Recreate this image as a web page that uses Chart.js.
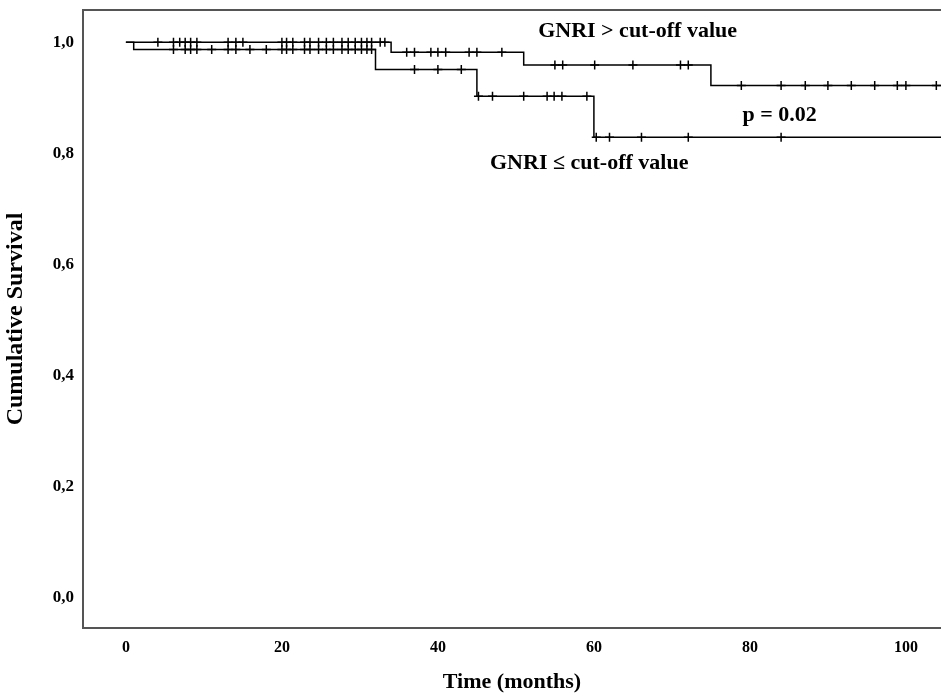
<!DOCTYPE html>
<html lang="en">
<head>
  <meta charset="UTF-8">
  <title>Cumulative Survival by GNRI</title>
  <script src="https://cdn.jsdelivr.net/npm/chart.js"></script>
  <style>
    body {
      margin: 0;
      padding: 0;
      background: #fff;
      overflow: hidden;
    }
    #km {
      display: block;
    }
  </style>
</head>
<body>

<canvas id="km" width="941" height="698"></canvas>

<script>
  // step points of the two Kaplan-Meier curves (months, survival)
  const highTimes = [0, 34, 51, 75, 105];
  const highSurv = [1.0, 0.982, 0.959, 0.922, 0.922];
  const lowTimes = [0, 1, 32, 45, 60, 105];
  const lowSurv = [1.0, 0.987, 0.951, 0.903, 0.829, 0.829];

  // censored cases (months)
  const highCensored = [4.1, 6.1, 6.9, 7.6, 8.3, 9.1, 13.1, 14.1, 15.0, 20.0, 20.6, 21.4, 22.9,
    23.6, 24.7, 25.7, 26.6, 27.7, 28.5, 29.4, 30.2, 30.9, 31.5, 32.6, 33.2,
    36.0, 37.0, 39.1, 40.0, 41.0, 44.0, 45.0, 48.2,
    55.0, 56.0, 60.1, 65.0, 71.1, 72.1,
    78.9, 84.0, 87.1, 90.0, 93.0, 96.0, 98.9, 100.0, 103.9];
  const lowCensored = [6.1, 7.6, 8.3, 9.1, 11.0, 13.1, 14.1, 15.9, 18.0, 20.0, 20.6, 21.4, 22.9,
    23.6, 24.7, 25.7, 26.6, 27.7, 28.5, 29.4, 30.2, 30.9, 31.5,
    37.0, 40.0, 43.0,
    45.2, 47.0, 51.0, 54.0, 54.9, 55.9, 59.1,
    60.3, 62.0, 66.1, 72.1, 84.0];

  const xTicks = [0, 20, 40, 60, 80, 100];
  const yTicks = [0, 0.2, 0.4, 0.6, 0.8, 1.0];

  // text written inside the plot: [text, month, survival]
  const notes = [
    ["GNRI > cut-off value", 65.6, 1.019],
    ["p = 0.02", 83.8, 0.868],
    ["GNRI \u2264 cut-off value", 59.4, 0.782]
  ];

  const SERIF = "'Liberation Serif', 'Times New Roman', serif";

  function survivalAt(times, surv, t) {
    let s = surv[0];
    for (let i = 0; i < times.length; i++) {
      if (times[i] <= t) s = surv[i];
    }
    return s;
  }

  function toPoints(xs, ys) {
    return xs.map((x, i) => ({ x: x, y: ys[i] }));
  }

  function censorPoints(list, times, surv) {
    return list.map(t => ({ x: t, y: survivalAt(times, surv, t) }));
  }

  const whiteBg = {
    id: "whiteBg",
    beforeDraw(chart) {
      const ctx = chart.ctx;
      ctx.save();
      ctx.fillStyle = "#fff";
      ctx.fillRect(0, 0, chart.width, chart.height);
      ctx.restore();
    }
  };

  const frameAndNotes = {
    id: "frameAndNotes",
    afterDraw(chart) {
      const ctx = chart.ctx;
      const a = chart.chartArea;
      ctx.save();
      ctx.strokeStyle = "#555";
      ctx.lineWidth = 2;
      ctx.beginPath();
      ctx.moveTo(a.left - 1, a.top);
      ctx.lineTo(a.right, a.top);
      ctx.stroke();

      ctx.fillStyle = "#000";
      ctx.font = "bold 22px " + SERIF;
      ctx.textAlign = "center";
      ctx.textBaseline = "middle";
      notes.forEach(n => {
        const px = chart.scales.x.getPixelForValue(n[1]);
        const py = chart.scales.y.getPixelForValue(n[2]);
        ctx.fillText(n[0], px, py);
      });
      ctx.restore();
    }
  };

  function noPadding(scale) {
    scale.paddingTop = 0;
    scale.paddingBottom = 0;
    scale.paddingLeft = 0;
    scale.paddingRight = 0;
  }

  const lineStyle = {
    type: "line",
    stepped: true,
    borderColor: "#000",
    borderWidth: 1.5,
    pointRadius: 0,
    fill: false
  };

  const markStyle = {
    type: "scatter",
    pointStyle: "cross",
    radius: 4.5,
    borderColor: "#000",
    borderWidth: 1.5,
    showLine: false
  };

  new Chart(document.getElementById("km"), {
    data: {
      datasets: [
        Object.assign({ label: "GNRI > cut-off value", data: toPoints(highTimes, highSurv) }, lineStyle),
        Object.assign({ label: "GNRI \u2264 cut-off value", data: toPoints(lowTimes, lowSurv) }, lineStyle),
        Object.assign({ label: "censored >", data: censorPoints(highCensored, highTimes, highSurv) }, markStyle),
        Object.assign({ label: "censored \u2264", data: censorPoints(lowCensored, lowTimes, lowSurv) }, markStyle)
      ]
    },
    options: {
      responsive: false,
      animation: false,
      events: [],
      layout: { autoPadding: false, padding: { top: 10, left: 0, right: 0, bottom: 0 } },
      plugins: {
        legend: { display: false },
        tooltip: { enabled: false }
      },
      scales: {
        x: {
          type: "linear",
          min: -5.5,
          max: 104.5,
          afterBuildTicks: s => { s.ticks = xTicks.map(v => ({ value: v })); },
          afterFit: s => { s.height = 70; noPadding(s); },
          grid: { display: false, drawTicks: false },
          border: { display: true, color: "#555", width: 2 },
          ticks: {
            color: "#000",
            padding: 10,
            maxRotation: 0,
            font: { family: SERIF, weight: "bold", size: 16 },
            callback: v => String(v)
          },
          title: {
            display: true,
            text: "Time (months)",
            color: "#000",
            font: { family: SERIF, weight: "bold", size: 22 },
            padding: { top: 0, bottom: 2 }
          }
        },
        y: {
          type: "linear",
          min: -0.054,
          max: 1.058,
          afterBuildTicks: s => { s.ticks = yTicks.map(v => ({ value: v })); },
          afterFit: s => { s.width = 83; noPadding(s); },
          grid: { display: false, drawTicks: false },
          border: { display: true, color: "#555", width: 2 },
          ticks: {
            color: "#000",
            padding: 9,
            font: { family: SERIF, weight: "bold", size: 17 },
            callback: v => v.toFixed(1).replace(".", ",")
          },
          title: {
            display: true,
            text: "Cumulative Survival",
            color: "#000",
            font: { family: SERIF, weight: "bold", size: 24 },
            padding: { top: 1, bottom: 0 }
          }
        }
      }
    },
    plugins: [whiteBg, frameAndNotes]
  });
</script>

</body>
</html>
